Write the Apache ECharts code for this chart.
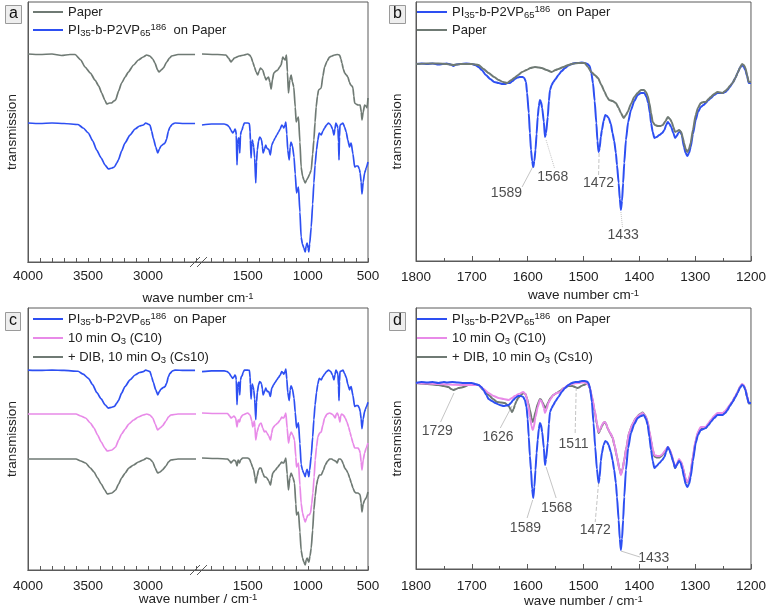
<!DOCTYPE html>
<html><head><meta charset="utf-8">
<script src="https://cdn.jsdelivr.net/npm/echarts@6/dist/echarts.min.js"></script>
<style>html,body{margin:0;padding:0;background:#fff}#c{width:769px;height:612px}</style>
</head><body><div id="c"></div>
<script>
// ---------- DATA (wavenumber cm-1, transmission in arbitrary offset units) ----------
// Panel a: paper and polymer on paper (left segment 4000-2600, right segment 1880-500)
const paperA_L = [[4000,208],[3900,207.5],[3800,208],[3720,206.5],[3650,207.5],[3608,207.5],[3560,202],[3525,195],[3480,189],[3442,182],[3410,176],[3386,169],[3360,162],[3344,158],[3320,159],[3303,159],[3285,161],[3270,162],[3245,171],[3220,179],[3190,185],[3164,190],[3120,197],[3080,202],[3040,205],[3011,207],[2985,206],[2960,203],[2942,199],[2920,192],[2908,190],[2890,192],[2872,194],[2844,200],[2820,204],[2803,206],[2750,207.5],[2700,207.5],[2608,207.5]];
const blueA_L = [[4000,139],[3900,138.5],[3800,139],[3700,138.5],[3583,137.5],[3540,134],[3497,129],[3460,121],[3428,112],[3390,104],[3358,97],[3330,93],[3300,94],[3280,95],[3260,99],[3247,102],[3220,111],[3192,119],[3150,127],[3108,133],[3070,136],[3039,137],[3019,139],[3000,138],[2983,137],[2970,131],[2956,124],[2935,115],[2919,109],[2905,113],[2892,116],[2870,118],[2858,119],[2845,123],[2830,131],[2817,135],[2795,138],[2775,139],[2700,138.5],[2608,138.5]];
const paperA_R = [[1880,208],[1750,207.5],[1681,207],[1660,204],[1639,200],[1625,202],[1611,204],[1569,206],[1530,207],[1500,208],[1485,207],[1472,205],[1458,200],[1444,195],[1430,190],[1417,187],[1405,191],[1394,194],[1385,193],[1375,192],[1360,186],[1347,182],[1337,184],[1327,185],[1316,180],[1305,173],[1295,182],[1283,189],[1265,191],[1250,192],[1235,195],[1222,197],[1214,202],[1208,205],[1198,203],[1189,202],[1183,205],[1178,207],[1170,190],[1161,169],[1150,182],[1139,187],[1128,180],[1117,175],[1105,155],[1097,140],[1088,143],[1078,145],[1066,120],[1056,95],[1044,86],[1033,82],[1022,79],[1010,82],[1000,84],[985,88],[972,92],[960,108],[950,122],[940,140],[931,155],[920,166],[911,172],[900,173],[889,174],[875,186],[861,195],[840,201],[819,205],[800,206],[778,207],[755,207.5],[736,207],[725,203],[717,199],[705,193],[694,189],[680,187],[667,185],[655,180],[644,177],[632,176],[625,174],[618,166],[611,159],[600,158],[583,157],[565,157],[556,150],[550,142],[540,150],[528,157],[518,156],[508,154],[500,164]];
const blueA_R = [[1880,137],[1800,138],[1695,138],[1670,137],[1653,135],[1640,132],[1625,129],[1612,131],[1606,133],[1600,132],[1595,127],[1589,97],[1583,118],[1578,124],[1572,124],[1566,109],[1560,127],[1553,131],[1547,132],[1538,136],[1528,139],[1500,139],[1486,138.5],[1480,130],[1478,122],[1472,104],[1466,118],[1462,122],[1456,119],[1450,115],[1442,104],[1433,79],[1427,100],[1420,112],[1410,121],[1400,125],[1392,124],[1385,122],[1378,116],[1372,109],[1360,113],[1350,117],[1345,115],[1335,113],[1325,113],[1312,107],[1300,117],[1285,121],[1272,124],[1258,127],[1244,130],[1230,133],[1217,137],[1208,136],[1200,134],[1190,137],[1183,140],[1175,128],[1167,112],[1155,102],[1147,115],[1140,120],[1128,116],[1115,105],[1105,88],[1094,69],[1085,73],[1078,75],[1066,50],[1056,25],[1045,18],[1033,14],[1022,10],[1014,16],[1006,19],[998,14],[992,10],[985,18],[972,35],[960,58],[950,79],[940,97],[928,112],[917,122],[906,129],[897,128],[889,127],[875,131],[861,134],[845,137],[828,139],[818,138],[810,137],[795,133],[783,127],[775,133],[767,139],[758,137],[750,134],[745,120],[741,102],[737,125],[733,137],[720,138],[708,139],[695,135],[681,130],[668,122],[653,115],[646,118],[640,119],[625,108],[611,95],[597,96],[583,96],[572,93],[565,89],[557,80],[550,68],[540,80],[528,89],[520,92],[515,94],[500,100]];
// Panel c: ozone treated samples (blue curve re-used from panel a on its own scale)
const pinkC_L = [[4000,156],[3800,156],[3600,156],[3560,154],[3520,152],[3480,147],[3450,142],[3420,135],[3390,128],[3360,122],[3340,119],[3300,120],[3270,123],[3245,130],[3220,136],[3190,141],[3160,146],[3120,150],[3080,153],[3040,155],[3010,156],[2985,155],[2960,152],[2940,146],[2920,140],[2900,142],[2880,144],[2850,149],[2830,153],[2810,155],[2750,156],[2600,156]];
const dibC_L = [[4000,111],[3800,111],[3600,111],[3560,109],[3520,107],[3480,102],[3450,98],[3420,92],[3390,86],[3360,80],[3340,76],[3300,77],[3270,80],[3245,86],[3220,92],[3190,97],[3160,102],[3120,105],[3080,108],[3040,110],[3010,112],[2985,111],[2960,108],[2940,102],[2920,97],[2900,98],[2880,100],[2850,104],[2830,108],[2810,110],[2750,111],[2600,111]];
const pinkC_R = [[1880,157],[1750,156.5],[1667,156.5],[1650,154],[1639,152],[1625,153],[1615,154],[1600,152],[1589,143],[1580,150],[1574,150],[1568,148],[1560,152],[1542,155],[1500,157],[1480,155],[1466,149],[1458,143],[1450,147],[1445,149],[1440,143],[1433,130],[1422,138],[1410,143],[1400,146],[1389,147],[1375,142],[1361,138],[1350,139],[1340,137],[1325,134],[1311,130],[1300,137],[1292,142],[1270,145],[1250,147],[1230,150],[1217,153],[1208,152],[1200,152],[1190,155],[1183,157],[1172,142],[1161,127],[1150,134],[1139,138],[1125,135],[1111,130],[1100,113],[1094,103],[1085,105],[1078,107],[1066,85],[1056,67],[1044,57],[1033,52],[1022,48],[1010,52],[1000,55],[990,55],[978,57],[968,66],[958,77],[948,93],[939,110],[928,123],[917,133],[903,137],[889,138],[875,145],[861,152],[840,156],[819,157],[800,156],[790,155],[772,152],[764,156],[755,157],[745,154],[733,148],[727,154],[720,156],[705,155],[689,152],[675,148],[661,143],[650,138],[639,133],[625,127],[611,122],[597,122],[583,122],[572,120],[565,117],[557,108],[550,100],[540,110],[528,117],[515,122],[500,127]];
const dibC_R = [[1880,112],[1750,111.5],[1667,111],[1650,109],[1639,107],[1625,109],[1615,110],[1600,109],[1589,104],[1580,110],[1574,109],[1568,107],[1560,110],[1542,112],[1500,112],[1485,111],[1472,107],[1460,103],[1450,100],[1440,93],[1433,87],[1422,94],[1410,100],[1400,102],[1389,102],[1375,97],[1361,93],[1350,93],[1340,92],[1325,89],[1311,85],[1300,92],[1292,97],[1270,100],[1250,103],[1230,106],[1217,108],[1208,107],[1200,107],[1190,110],[1183,112],[1172,96],[1161,80],[1150,92],[1139,97],[1125,93],[1111,87],[1100,66],[1094,55],[1085,57],[1078,58],[1066,38],[1056,20],[1044,12],[1033,8],[1022,5],[1014,10],[1006,12],[998,9],[992,8],[982,14],[972,22],[960,40],[950,60],[939,74],[928,85],[917,91],[906,95],[889,95],[870,100],[856,105],[835,109],[819,111],[800,111],[790,110],[770,109],[756,107],[745,111],[730,111],[720,110],[705,106],[694,102],[680,100],[667,97],[652,92],[639,87],[625,82],[611,78],[597,77],[583,77],[572,76],[565,75],[557,67],[550,58],[540,66],[528,70],[515,72],[500,78]];
// Panel b: 1800-1200 detail
const bBlue = [[1800,197],[1790,197.5],[1780,197],[1770,197.5],[1760,196.5],[1745,197.5],[1738,196.5],[1733,195],[1728,196.5],[1720,197],[1710,197.5],[1700,197],[1694,196],[1688,194],[1682,191],[1675,186],[1667,182],[1660,179],[1652,178],[1645,177],[1641,177],[1636,178],[1632,178],[1627,180],[1623,182],[1618,183.5],[1614,184],[1609,184],[1606,183],[1603,179],[1601,168],[1598,148],[1596,128],[1594,111],[1592,100],[1590,94],[1588,100],[1586,111],[1584,127],[1582,144],[1580,155],[1578,161],[1576,159],[1574,153],[1571,139],[1569,124],[1567,128],[1564,144],[1562,160],[1560,171],[1557,176],[1554,179],[1550,182],[1545,186],[1539,190],[1533,193],[1527,195.5],[1521,197],[1515,198],[1509,198],[1503,198.5],[1498,198],[1493,197],[1489,195],[1486,188],[1483,178],[1480,160],[1477,138],[1475,120],[1473,109],[1471,113],[1469,124],[1467,131],[1464,140],[1461,146],[1458,145],[1455,143],[1451,137],[1448,128],[1445,120],[1442,108],[1440,96],[1437,78],[1435,62],[1433,51],[1431,60],[1429,78],[1427,98],[1424,121],[1420,139],[1415,151],[1409,160],[1403,166],[1397,168],[1391,168],[1387,164],[1384,158],[1381,148],[1379,138],[1376,129],[1373,123],[1369,124],[1364,126],[1359,128],[1355,131],[1352,136],[1349,139],[1346,137],[1343,134],[1339,128],[1336,123],[1333,125],[1330,128],[1327,130],[1324,126],[1320,114],[1317,108],[1314,105],[1311,108],[1308,114],[1304,127],[1299,141],[1295,149],[1290,154],[1285,156],[1281,158],[1276,161],[1272,163],[1266,166],[1260,168],[1255,168],[1251,168],[1246,169],[1242,171],[1238,174],[1233,178],[1228,183],[1224,188],[1220,193],[1216,196],[1213,194],[1210,191],[1207,185],[1204,178],[1200,178]];
const bPaper = [[1800,197],[1780,197.5],[1760,197.5],[1745,197],[1733,196],[1720,197],[1700,197],[1688,196],[1679,192],[1670,188],[1660,184],[1652,181],[1644,179],[1637,178],[1629,181],[1623,183.5],[1617,186],[1610,189],[1602,191],[1595,193],[1587,194],[1580,193.5],[1575,193],[1566,191],[1557,189],[1550,191],[1545,192],[1536,194],[1527,196],[1518,197.5],[1509,198],[1498,198],[1492,194],[1486,189],[1480,186],[1474,183],[1468,176],[1462,169],[1458,164],[1454,161],[1448,160],[1442,158],[1437,153],[1433,148],[1428,143],[1424,146],[1421,149],[1415,157],[1409,164],[1403,168],[1397,171],[1392,171],[1388,169],[1385,165],[1382,158],[1379,148],[1376,139],[1372,136],[1367,135],[1362,135],[1358,136],[1353,140],[1349,144],[1345,142],[1342,139],[1339,134],[1336,129],[1332,130],[1329,131],[1325,129],[1322,123],[1320,118],[1317,112],[1314,109],[1311,112],[1308,118],[1304,131],[1299,146],[1295,153],[1290,158],[1285,159],[1281,159],[1276,162],[1272,164],[1266,167],[1260,169],[1255,168.5],[1251,168],[1246,170],[1242,172],[1238,175],[1233,178],[1228,183],[1224,188],[1220,193],[1216,197],[1213,196],[1210,193],[1207,186],[1204,179],[1200,179]];
// Panel d: 1800-1200 detail, three samples
const dBlue = [[1800,186],[1790,187],[1780,186.5],[1770,187],[1760,186],[1750,187],[1745,186.5],[1735,187],[1725,186.5],[1715,186],[1700,186],[1694,185],[1688,184],[1683,182],[1679,179],[1674,174],[1670,170],[1664,168],[1658,166],[1650,164],[1643,163],[1638,163.5],[1634,164],[1630,166],[1626,169],[1621,171.5],[1617,173],[1612,173],[1608,172],[1605,169],[1602,162],[1600,150],[1598,132],[1596,113],[1594,99],[1592,80],[1590,71],[1588,82],[1586,99],[1584,116],[1582,129],[1580,140],[1578,146],[1576,144],[1574,137],[1571,121],[1569,104],[1567,110],[1564,126],[1562,145],[1560,157],[1557,161],[1554,164],[1550,168],[1545,172],[1539,177],[1533,181],[1527,184],[1521,186],[1515,187],[1509,187],[1503,188],[1498,188],[1494,187.5],[1491,186],[1488,180],[1485,167],[1482,146],[1479,122],[1476,100],[1473,86],[1471,92],[1469,108],[1467,116],[1464,124],[1461,128],[1458,127],[1455,124],[1451,117],[1448,109],[1445,99],[1442,86],[1440,72],[1437,49],[1435,30],[1433,19],[1431,30],[1429,49],[1427,72],[1424,99],[1420,121],[1415,136],[1409,145],[1403,151],[1397,153],[1392,154],[1388,150],[1385,144],[1382,132],[1379,119],[1376,108],[1373,101],[1369,103],[1364,106],[1359,109],[1355,112],[1352,117],[1349,122],[1346,119],[1343,114],[1339,107],[1336,101],[1333,104],[1329,108],[1326,106],[1323,100],[1320,92],[1317,85],[1314,82],[1311,85],[1308,92],[1304,108],[1299,126],[1295,134],[1290,139],[1285,140],[1281,141],[1276,144],[1272,147],[1266,151],[1260,154],[1255,154],[1251,154],[1246,156],[1242,159],[1238,163],[1233,167],[1228,172],[1224,176],[1220,181],[1216,184],[1213,183],[1210,179],[1207,172],[1204,166],[1200,166]];
const dPink = [[1800,186],[1780,185.5],[1760,185],[1740,184.5],[1718,184],[1700,184],[1688,184],[1679,180],[1670,176],[1661,173],[1652,171],[1643,170],[1634,169],[1628,171],[1623,173],[1616,175],[1608,177],[1604,175],[1602,172],[1599,164],[1596,152],[1593,143],[1591,139],[1589,142],[1586,152],[1582,162],[1578,169],[1576,168.5],[1574,166],[1571,161],[1569,156],[1566,160],[1563,166],[1559,170],[1554,174],[1548,176],[1542,177],[1535,181],[1527,184],[1518,185.5],[1509,186],[1503,186.5],[1498,187],[1493,185],[1489,182],[1485,173],[1480,159],[1476,146],[1473,137],[1470,140],[1467,144],[1464,146.5],[1462,147],[1459,145],[1457,141],[1453,137],[1448,132],[1444,123],[1440,112],[1436,101],[1433,94],[1430,100],[1427,109],[1423,122],[1418,137],[1412,145],[1406,151],[1400,154],[1394,156],[1389,153],[1385,147],[1382,138],[1379,129],[1376,120],[1373,114],[1368,113],[1364,113],[1360,114],[1357,116],[1353,119],[1349,122],[1346,120],[1343,116],[1339,108],[1336,102],[1332,106],[1329,110],[1325,107],[1322,102],[1320,97],[1317,90],[1314,87],[1311,90],[1308,97],[1304,113],[1299,129],[1295,137],[1290,142],[1285,142],[1281,142],[1276,146],[1272,149],[1266,153],[1260,156],[1255,156],[1251,156],[1246,158],[1242,161],[1238,164],[1233,168],[1228,173],[1224,177],[1220,182],[1216,185],[1213,184],[1210,180],[1207,173],[1204,166],[1200,166]];
const dDib = [[1800,186],[1780,185],[1760,184],[1750,183],[1742,182],[1737,180],[1733,179],[1728,180],[1724,181],[1718,181.5],[1710,183],[1703,185],[1695,184.5],[1688,184],[1679,179],[1670,174],[1662,170],[1655,167],[1648,166.5],[1641,166],[1636,164],[1633,162],[1630,159],[1628,157],[1625,160],[1623,164],[1620,168],[1617,171],[1612,174],[1608,176],[1604,175],[1602,172],[1599,166],[1596,159],[1593,151],[1591,147],[1589,150],[1586,157],[1582,165],[1578,170],[1576,169.5],[1574,167],[1571,164],[1569,161],[1566,163],[1563,167],[1559,171],[1554,174],[1548,176],[1542,178],[1535,181],[1527,183],[1520,183],[1515,182],[1511,181],[1508,181.5],[1504,183],[1500,184],[1495,185],[1491,185],[1489,181],[1485,172],[1480,158],[1476,145],[1473,136],[1470,139],[1467,143],[1464,146],[1462,147],[1459,144.5],[1457,141],[1453,136.5],[1448,131.5],[1444,122.5],[1440,112],[1436,101],[1433,95],[1430,100],[1427,109],[1423,122],[1418,137],[1412,145],[1406,151],[1400,154.5],[1394,156.5],[1389,153],[1385,147],[1382,137],[1379,128],[1376,119],[1373,112.5],[1368,111.5],[1364,111.5],[1360,113],[1357,115],[1353,118.5],[1349,121.5],[1346,119.5],[1343,115],[1339,107.5],[1336,101],[1332,105],[1329,109],[1325,106.5],[1322,101],[1320,96.5],[1317,89.5],[1314,86.5],[1311,89.5],[1308,96.5],[1304,112],[1299,128],[1295,136],[1290,141],[1285,141],[1281,141],[1276,145],[1272,148],[1266,152],[1260,155],[1255,155],[1251,155],[1246,157],[1242,160],[1238,163.5],[1233,167.5],[1228,172.5],[1224,177],[1220,181.5],[1216,184.5],[1213,183.5],[1210,179.5],[1207,172.5],[1204,165.5],[1200,165.5]];
// Peak annotations: [wavenumber, level, text] and leader lines
const bPeakLabels = [[1638,68,'1589'],[1555,84,'1568'],[1473,78,'1472'],[1429,26,'1433']];
const bLeaders = [[[1591,94],[1610,74],'solid'],[[1567,121],[1552,93],'dotted'],[[1472,108],[1473,86],'dashed'],[[1433,49],[1430,33],'dotted']];
const dPeakLabels = [[1762,138,'1729'],[1653,132,'1626'],[1518,125,'1511'],[1604,41,'1589'],[1548,61,'1568'],[1479,39,'1472'],[1374,11,'1433']];
const dLeaders = [[[1732,176],[1756,147],'solid'],[[1628,163],[1649,141],'solid'],[[1513,182],[1515,134],'dashed'],[[1591,69],[1601,51],'solid'],[[1567,102],[1549,71],'solid'],[[1473,86],[1479,47],'dashed'],[[1433,18],[1399,12],'solid']];
// Tick labels
const leftTickLabels = [4000,3500,3000];
const rightTickLabels = [1500,1000,500];
const leftTicks = [2600,2700,2800,2900,3000,3100,3200,3300,3400,3500,3600,3700,3800,3900,4000];
const rightTicks = [500,600,700,800,900,1000,1100,1200,1300,1400,1500,1600,1700,1800];

// ---------- STYLE ----------
const FONT = '"Liberation Sans", Arial, sans-serif';
const BLUE = '#2d4ff2', GRAY = '#6f7a74', PINK = '#e88ae8', AX = '#5a5a5a', TXT = '#222';
const chart = echarts.init(document.getElementById('c'), null, {renderer: 'canvas'});

const legendNames = {
  'Paper': 'Paper',
  'PI': 'PI{sub|35}-b-P2VP{sub|65}{sup|186}  on Paper',
  'C10': '10 min O{sub|3} (C10)',
  'Cs10': '+ DIB, 10 min O{sub|3} (Cs10)'
};
const rich = {
  sub: {fontSize: 9.5, fontFamily: FONT, color: TXT, verticalAlign: 'bottom', lineHeight: 10},
  sup: {fontSize: 9.5, fontFamily: FONT, color: TXT, verticalAlign: 'top', lineHeight: 10}
};
const plain = v => String(v);
function legend(left, top, data, gap) {
  return {left, top, orient: 'vertical', data, icon: 'rect', itemWidth: 30, itemHeight: 2, itemGap: gap,
    padding: 0, selectedMode: false, formatter: n => legendNames[n],
    textStyle: {fontSize: 13, color: TXT, fontFamily: FONT, lineHeight: 16, rich}};
}
function frameX(name, gap) {
  return {type: 'value', min: 0, max: 1, axisLine: {show: true, lineStyle: {color: AX}},
    axisTick: {show: false}, axisLabel: {show: false}, splitLine: {show: false},
    name, nameLocation: 'middle', nameGap: gap,
    nameTextStyle: {fontSize: 13.5, color: TXT, fontFamily: FONT, rich}};
}
function frameY(gridIndex, gap) {
  return {gridIndex, type: 'value', min: 0, max: 1, axisLine: {show: true, lineStyle: {color: AX}},
    axisTick: {show: false}, axisLabel: {show: false}, splitLine: {show: false},
    name: 'transmission', nameLocation: 'middle', nameGap: gap,
    nameTextStyle: {fontSize: 13.5, color: TXT, fontFamily: FONT}};
}
function segX(gridIndex, min, max, ticks, labels, margin) {
  return {gridIndex, type: 'value', min, max, inverse: true,
    axisLine: {show: true, lineStyle: {color: AX}},
    axisTick: {show: true, inside: true, length: 4, customValues: ticks, lineStyle: {color: AX}},
    axisLabel: {show: true, customValues: labels, margin, formatter: plain, fontSize: 13.5, color: TXT, fontFamily: FONT},
    splitLine: {show: false}};
}
function detailX(gridIndex, name, margin, gap) {
  return {gridIndex, type: 'value', min: 1200, max: 1800, interval: 100, inverse: true,
    axisLine: {show: true, lineStyle: {color: AX}},
    axisTick: {show: true, inside: true, length: 5, lineStyle: {color: AX}},
    minorTick: {show: true, splitNumber: 2, length: 3, lineStyle: {color: AX}},
    axisLabel: {margin, formatter: plain, fontSize: 13.5, color: TXT, fontFamily: FONT},
    splitLine: {show: false},
    name, nameLocation: 'middle', nameGap: gap,
    nameTextStyle: {fontSize: 13.5, color: TXT, fontFamily: FONT, rich}};
}
function detailY(gridIndex, max, gap) {
  return {gridIndex, type: 'value', min: 0, max, axisLine: {show: true, lineStyle: {color: AX}},
    axisTick: {show: false}, axisLabel: {show: false}, splitLine: {show: false},
    name: 'transmission', nameLocation: 'middle', nameGap: gap,
    nameTextStyle: {fontSize: 13.5, color: TXT, fontFamily: FONT}};
}
function hidY(gridIndex, min, max) { return {gridIndex, type: 'value', min, max, show: false}; }
function line(name, data, color, xi, yi, width) {
  return {type: 'line', name, data, xAxisIndex: xi, yAxisIndex: yi, symbol: 'none',
    smooth: 0.2, smoothMonotone: 'x', lineStyle: {color, width}, itemStyle: {color}, silent: true, z: 3};
}
function peakLabels(data, xi, yi) {
  return {type: 'scatter', xAxisIndex: xi, yAxisIndex: yi, data, symbolSize: 0, silent: true, z: 5,
    label: {show: true, position: 'inside', formatter: p => p.data[2], fontSize: 14, color: TXT, fontFamily: FONT}};
}
function leaders(list, xi, yi) {
  return {type: 'lines', coordinateSystem: 'cartesian2d', xAxisIndex: xi, yAxisIndex: yi, silent: true, z: 4,
    data: list.map(l => ({coords: [l[0], l[1]], lineStyle: {type: l[2]}})),
    lineStyle: {color: '#8a8a8a', width: 1}};
}
function panelTitle(text, left, top) {
  return {text, left, top, backgroundColor: '#eeeeee', borderColor: '#9a9a9a', borderWidth: 1,
    padding: [1, 4, 2, 4], textStyle: {fontSize: 16, fontWeight: 'normal', color: '#111', fontFamily: FONT}};
}
function breakMark(y) {
  return [
    {type: 'line', shape: {x1: 190, y1: y + 5, x2: 200, y2: y - 5}, style: {stroke: AX, lineWidth: 1}},
    {type: 'line', shape: {x1: 197, y1: y + 5, x2: 207, y2: y - 5}, style: {stroke: AX, lineWidth: 1}}
  ];
}
const frameGrid = {show: true, borderColor: AX, borderWidth: 1, backgroundColor: 'transparent'};

const option = {
  animation: false,
  backgroundColor: '#fff',
  title: [panelTitle('a', 5, 5), panelTitle('b', 389, 5), panelTitle('c', 5, 312), panelTitle('d', 389, 312)],
  legend: [legend(33, 4, ['Paper', 'PI'], 2), legend(417, 4, ['PI', 'Paper'], 2),
           legend(33, 311, ['PI', 'C10', 'Cs10'], 3), legend(417, 311, ['PI', 'C10', 'Cs10'], 3)],
  grid: [
    Object.assign({left: 28, top: 2, width: 340, height: 260}, frameGrid),
    {left: 28, top: 2, width: 168, height: 260},
    {left: 202, top: 2, width: 166, height: 260},
    Object.assign({left: 416, top: 2, width: 336, height: 259}, frameGrid),
    Object.assign({left: 28, top: 308, width: 340, height: 262}, frameGrid),
    {left: 28, top: 308, width: 168, height: 262},
    {left: 202, top: 308, width: 166, height: 262},
    Object.assign({left: 416, top: 308, width: 336, height: 261}, frameGrid)
  ],
  xAxis: [
    Object.assign({gridIndex: 0}, frameX('wave number cm{sup|-1}', 29)),
    segX(1, 2600, 4000, leftTicks, leftTickLabels, 7),
    segX(2, 500, 1880, rightTicks, rightTickLabels, 7),
    detailX(3, 'wave number cm{sup|-1}', 9, 27),
    Object.assign({gridIndex: 4}, frameX('wave number / cm{sup|-1}', 22)),
    segX(5, 2600, 4000, leftTicks, leftTickLabels, 9),
    segX(6, 500, 1880, rightTicks, rightTickLabels, 9),
    detailX(7, 'wave number / cm{sup|-1}', 10, 21)
  ],
  yAxis: [
    frameY(0, 9),
    hidY(1, 0, 260), hidY(2, 0, 260),
    detailY(3, 259, 12),
    frameY(4, 9),
    hidY(5, 0, 262), hidY(6, 0, 262),
    detailY(7, 261, 12),
    hidY(5, -102.8, 214), hidY(6, -102.8, 214)
  ],
  series: [
    line('Paper', paperA_L, GRAY, 1, 1, 1.7), line('Paper', paperA_R, GRAY, 2, 2, 1.7),
    line('PI', blueA_L, BLUE, 1, 1, 1.7), line('PI', blueA_R, BLUE, 2, 2, 1.7),
    line('PI', bBlue, BLUE, 3, 3, 2), line('Paper', bPaper, GRAY, 3, 3, 2),
    line('Cs10', dibC_L, GRAY, 5, 5, 1.7), line('Cs10', dibC_R, GRAY, 6, 6, 1.7),
    line('C10', pinkC_L, PINK, 5, 5, 1.7), line('C10', pinkC_R, PINK, 6, 6, 1.7),
    line('PI', blueA_L, BLUE, 5, 8, 1.7), line('PI', blueA_R, BLUE, 6, 9, 1.7),
    line('Cs10', dDib, GRAY, 7, 7, 2), line('C10', dPink, PINK, 7, 7, 2), line('PI', dBlue, BLUE, 7, 7, 2),
    leaders(bLeaders, 3, 3), peakLabels(bPeakLabels, 3, 3),
    leaders(dLeaders, 7, 7), peakLabels(dPeakLabels, 7, 7)
  ],
  graphic: breakMark(262).concat(breakMark(570))
};
chart.setOption(option);
</script></body></html>
